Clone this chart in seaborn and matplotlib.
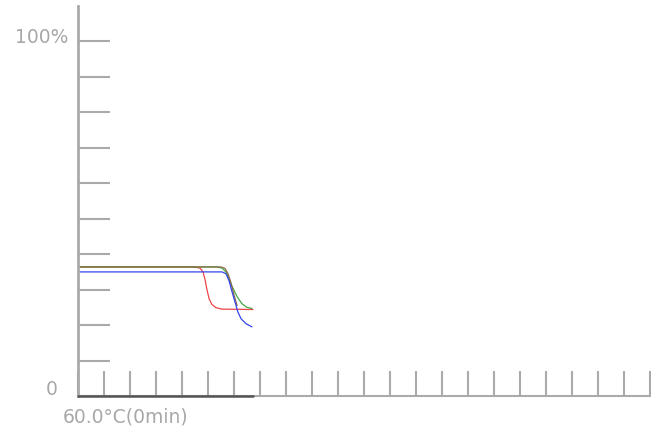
import numpy as np
import pandas as pd
import seaborn as sns
import matplotlib.pyplot as plt

# time axis units (one tick per unit), percent values
red_x = [0, 4.46, 4.69, 4.81, 4.88, 4.96, 5.04, 5.15, 5.31, 5.54, 6.73]
red_y = [36.4, 36.4, 36.1, 35.0, 33.0, 30.0, 27.5, 25.8, 24.9, 24.5, 24.4]

green_x = [0, 5.31, 5.54, 5.69, 5.81, 5.92, 6.12, 6.31, 6.50, 6.69]
green_y = [36.4, 36.4, 36.1, 35.0, 33.0, 31.0, 28.0, 26.0, 25.0, 24.7]

brown_x = [0, 5.50, 5.65, 5.77, 5.88, 6.00, 6.12]
brown_y = [36.4, 36.4, 36.0, 34.5, 32.0, 28.5, 25.5]

blue_x = [0, 5.54, 5.69, 5.81, 5.92, 6.04, 6.15, 6.27, 6.46, 6.69]
blue_y = [35.0, 35.0, 34.5, 32.5, 29.5, 26.5, 23.7, 21.8, 20.4, 19.5]

series = {'red': (red_x, red_y, '#ee4444'),
          'green': (green_x, green_y, '#44aa44'),
          'brown': (brown_x, brown_y, '#8a6a48'),
          'blue': (blue_x, blue_y, '#3344ee')}

sns.set_style('white')
plt.rcParams['font.family'] = ['DejaVu Sans']

fig = plt.figure(figsize=(6.51, 4.32), dpi=100)
ax = fig.add_axes([78 / 651, 1 - 396 / 432, (650 - 78) / 651, (396 - 6) / 432])

for name, (xs, ys, col) in series.items():
    df = pd.DataFrame({'t': xs, 'v': ys})
    sns.lineplot(data=df, x='t', y='v', ax=ax, color=col, lw=0.9, sort=False)

ax.set_xlim(0, 22)
ax.set_ylim(0, 110)
ax.set_xticks(np.arange(0, 23))
ax.set_yticks(np.arange(0, 101, 10))
ax.set_xticklabels([])
ax.set_yticklabels([])
ax.set_xlabel('')
ax.set_ylabel('')
grey = '#aaaaaa'
ax.tick_params(axis='y', direction='in', length=23, width=1.5, color=grey, left=True)
ax.tick_params(axis='x', direction='in', length=18, width=1.5, color=grey, bottom=True)
for s in ['top', 'right']:
    ax.spines[s].set_visible(False)
ax.spines['left'].set_color(grey)
ax.spines['left'].set_linewidth(2)
ax.spines['bottom'].set_color(grey)
ax.spines['bottom'].set_linewidth(1.5)

# darker segment of the time axis covering the recorded data
t_end = max(max(red_x), max(green_x), max(blue_x))
ax.plot([0, t_end], [0, 0], color='#555555', lw=1.8, clip_on=False, zorder=5)

txt = dict(fontsize=13.5, color='#a8a8a8')
ax.text(-10 / 26, 101, '100%', ha='right', va='center', **txt)
ax.text(-20 / 26, 1.8, '0', ha='right', va='center', **txt)
ax.text(-15 / 26, -5.8, '60.0°C(0min)', ha='left', va='center', **txt)

fig.savefig('out.png', dpi=100)
